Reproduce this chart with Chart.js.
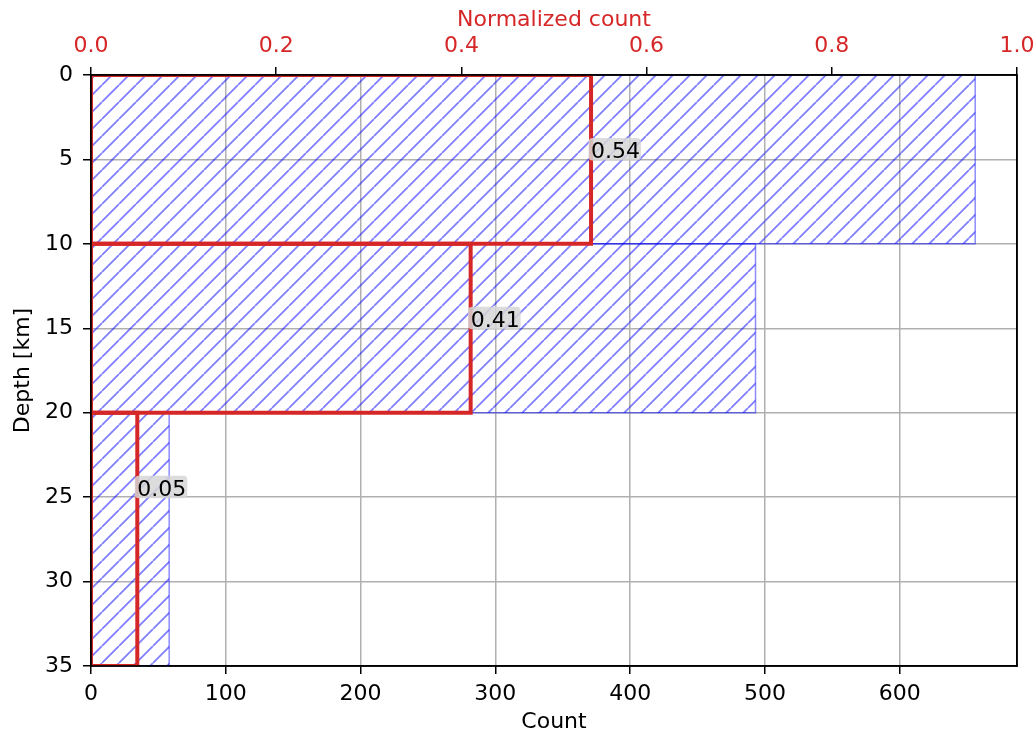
<!DOCTYPE html>
<html>
<head>
<meta charset="utf-8">
<title>Depth histogram</title>
<script src="https://cdn.jsdelivr.net/npm/chart.js@4.4.1/dist/chart.umd.min.js"></script>
<style>
  html, body { margin: 0; padding: 0; background: #ffffff; }
  canvas { display: block; }
</style>
</head>
<body>
<canvas id="depthChart" width="1036" height="735"></canvas>
<script>
// Depth bins (km) and the number of events in each bin
const depthEdges = [0, 10, 20, 35];
const counts = [656, 493, 58];
// Share of all events per bin (top axis)
const fractions = [0.54, 0.41, 0.05];

// Axis ranges and tick steps
const countMax = 687;
const countStep = 100;
const depthMax = 35;
const depthStep = 5;
const fractionStep = 0.2;

const FONT = 'DejaVu Sans';
const RED = '#d62728';
const GRID = '#b0b0b0';

Chart.defaults.font.family = FONT;
Chart.defaults.font.size = 22;
Chart.defaults.color = '#000';

// Diagonal "/" hatch used for the count bars
function makeHatch(period, color, width) {
  const tile = document.createElement('canvas');
  tile.width = period;
  tile.height = period;
  const g = tile.getContext('2d');
  g.strokeStyle = color;
  g.lineWidth = width;
  g.beginPath();
  for (const o of [-period, 0, period]) {
    g.moveTo(o, period);
    g.lineTo(o + period, 0);
  }
  g.stroke();
  return g.createPattern(tile, 'repeat');
}
const hatch = makeHatch(17, 'rgba(0,0,255,0.5)', 1.8);

// Closed rectangle for one bin: from zero out to the value, between two depths
function binRect(value, top, bottom) {
  return [
    { x: 0, y: top },
    { x: value, y: top },
    { x: value, y: bottom },
    { x: 0, y: bottom },
    { x: 0, y: top }
  ];
}

// Hatched count bars (bottom axis)
const barDatasets = counts.map((c, i) => ({
  label: 'Count ' + depthEdges[i] + '-' + depthEdges[i + 1] + ' km',
  data: binRect(c, depthEdges[i], depthEdges[i + 1]),
  xAxisID: 'x',
  yAxisID: 'y',
  showLine: true,
  fill: 'shape',
  backgroundColor: hatch,
  borderColor: 'rgba(0,0,255,0.45)',
  borderWidth: 1.5,
  pointRadius: 0,
  order: 2
}));

// Red outlined bars of the normalized histogram (top axis)
const fractionDatasets = fractions.map((f, i) => ({
  label: 'Normalized ' + depthEdges[i] + '-' + depthEdges[i + 1] + ' km',
  data: binRect(f, depthEdges[i], depthEdges[i + 1]),
  xAxisID: 'x2',
  yAxisID: 'y',
  showLine: true,
  fill: false,
  borderColor: RED,
  borderWidth: 4,
  borderJoinStyle: 'miter',
  pointRadius: 0,
  clip: 0,
  order: 1
}));

// Black frame around the plotting area, drawn over the data
const framePlugin = {
  id: 'frame',
  afterDatasetsDraw(chart) {
    const { ctx, chartArea: a } = chart;
    ctx.save();
    ctx.strokeStyle = '#000';
    ctx.lineWidth = 1.6;
    ctx.strokeRect(a.left, a.top, a.right - a.left, a.bottom - a.top);
    ctx.restore();
  }
};

// Value labels with a light grey box next to each red bar
const labelPlugin = {
  id: 'binLabels',
  afterDatasetsDraw(chart) {
    const { ctx } = chart;
    const xs = chart.scales.x2;
    const ys = chart.scales.y;
    ctx.save();
    ctx.font = '22px "' + FONT + '"';
    ctx.textAlign = 'left';
    ctx.textBaseline = 'alphabetic';
    fractions.forEach((f, i) => {
      const txt = f.toFixed(2);
      const px = xs.getPixelForValue(f);
      const py = ys.getPixelForValue(depthEdges[i] + 5) - 1.5;
      const w = ctx.measureText(txt).width;
      ctx.fillStyle = 'rgba(214,214,214,0.85)';
      ctx.beginPath();
      ctx.roundRect(px - 2.5, py - 20, w + 3.5, 22.5, 4);
      ctx.fill();
      ctx.fillStyle = '#000';
      ctx.fillText(txt, px, py);
    });
    ctx.restore();
  }
};

const tickGrid = {
  color: GRID,
  lineWidth: 1.5,
  tickColor: '#000',
  tickLength: 8,
  tickWidth: 1.5
};

// Fixed box sizes so the plotting area sits where intended
function fixBox(size, prop) {
  return s => {
    s[prop] = size;
    s.paddingLeft = 0;
    s.paddingRight = 0;
    s.paddingTop = 0;
    s.paddingBottom = 0;
  };
}

new Chart(document.getElementById('depthChart'), {
  type: 'scatter',
  data: { datasets: [...fractionDatasets, ...barDatasets] },
  options: {
    responsive: false,
    animation: false,
    layout: { padding: 0 },
    plugins: {
      legend: { display: false },
      tooltip: { enabled: false }
    },
    scales: {
      x: {
        type: 'linear',
        position: 'bottom',
        min: 0,
        max: countMax,
        ticks: {
          stepSize: countStep,
          includeBounds: false,
          padding: 7,
          color: '#000',
          maxRotation: 0,
          callback: v => String(Math.round(v))
        },
        grid: tickGrid,
        border: { display: true, color: '#000', width: 1.5 },
        title: { display: true, text: 'Count', color: '#000', padding: { top: 0, bottom: 0 } },
        afterFit: fixBox(69, 'height')
      },
      x2: {
        type: 'linear',
        position: 'top',
        min: 0,
        max: 1,
        ticks: {
          stepSize: fractionStep,
          includeBounds: false,
          padding: 8,
          color: RED,
          maxRotation: 0,
          callback: v => v.toFixed(1)
        },
        grid: { ...tickGrid, drawOnChartArea: false },
        border: { display: true, color: '#000', width: 1.5 },
        title: { display: true, text: 'Normalized count', color: RED, padding: { top: 7, bottom: 0 } },
        afterFit: fixBox(75, 'height')
      },
      y: {
        type: 'linear',
        position: 'left',
        reverse: true,
        min: 0,
        max: depthMax,
        ticks: {
          stepSize: depthStep,
          includeBounds: false,
          padding: 10,
          color: '#000',
          callback: v => String(Math.round(v))
        },
        grid: tickGrid,
        border: { display: true, color: '#000', width: 1.5 },
        title: { display: true, text: 'Depth [km]', color: '#000', padding: { top: 10, bottom: 0 } },
        afterFit: fixBox(91, 'width')
      },
      y2: {
        type: 'linear',
        position: 'right',
        reverse: true,
        min: 0,
        max: depthMax,
        ticks: { display: false },
        grid: { display: true, drawOnChartArea: false, drawTicks: false },
        border: { display: true, color: '#000', width: 1.5 },
        afterFit: fixBox(19, 'width')
      }
    }
  },
  plugins: [framePlugin, labelPlugin]
});
</script>
</body>
</html>
